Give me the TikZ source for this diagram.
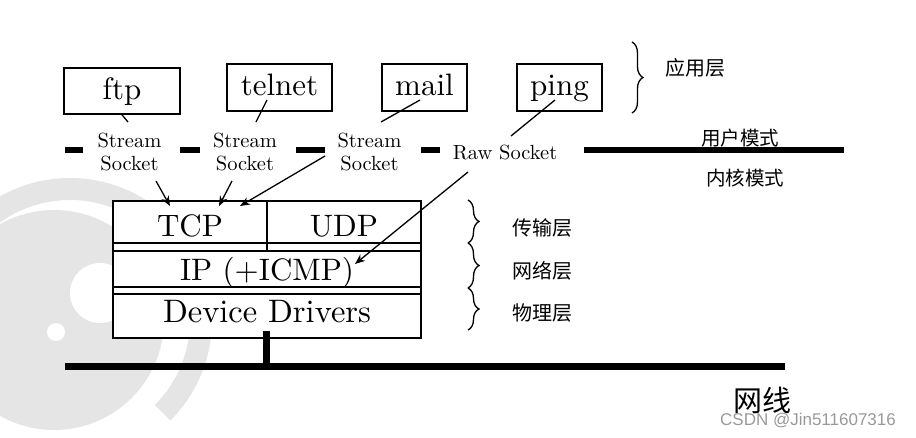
\documentclass[tikz,border=0pt]{standalone}
\usepackage{fontspec}
\setmainfont{lmroman10-regular.otf}
\newfontfamily\cjk{Noto Sans CJK SC}
\newfontfamily\wmfont{Liberation Sans}
\usetikzlibrary{arrows.meta,decorations.pathreplacing}
\begin{document}
\begin{tikzpicture}[x=1pt,y=-1pt,
 appbox/.style={draw,line width=1.6pt,minimum height=47pt,inner sep=0pt,
   font=\fontsize{31}{31}\selectfont,text height=22pt,text depth=6pt},
 bigtxt/.style={font=\fontsize{31}{31}\selectfont,inner sep=0pt,anchor=base},
 socklbl/.style={font=\fontsize{20.5}{23}\selectfont,align=center,inner sep=0pt},
 thickdash/.style={line width=6pt},
 link/.style={line width=1.3pt},
 arr/.style={line width=1.3pt,-{Stealth[length=10pt,width=8pt]}},
 cjklbl/.style={font=\cjk\fontsize{20}{20}\selectfont,inner sep=0pt},
 brc/.style={decorate,decoration={brace,amplitude=11pt},line width=1.3pt},
 layer/.style={line width=1.6pt},
 logo/.style={fill=black!10,draw=none}
]
\useasboundingbox (0,0) rectangle (916,437);
% background watermark logo
\begin{scope}
\clip (0,0) rectangle (916,437);
\begin{scope}
\clip (70,320) -- (286,536) -- (500,500) -- (500,-100) -- (-300,-100) -- (-300,320) -- cycle;
\fill[logo,even odd rule] (70,320) circle[radius=142] (70,320) circle[radius=120];
\end{scope}
\fill[logo] (54,320) circle[radius=110];
\fill[white] (100,293) circle[radius=30];
\fill[white] (56,332) circle[radius=9];
\end{scope}

% application boxes
\node[appbox,minimum width=116pt,minimum height=46pt] (ftp) at (122,91) {ftp};
\node[appbox,minimum width=105pt] (telnet) at (279.5,87.5) {telnet};
\node[appbox,minimum width=85pt] (mail) at (424.5,87.5) {mail};
\node[appbox,minimum width=85pt] (ping) at (559.5,87.5) {ping};

% user/kernel boundary (thick dashed)
\draw[thickdash] (65,150) -- (83,150);
\draw[thickdash] (180,150) -- (200,150);
\draw[thickdash] (296,150) -- (325,150);
\draw[thickdash] (421,150) -- (440,150);
\draw[thickdash] (584,150) -- (844,150);

% socket labels
\node[socklbl] (ss1) at (129.5,151.5) {Stream\\Socket};
\node[socklbl] (ss2) at (245,151.5) {Stream\\Socket};
\node[socklbl] (ss3) at (369.5,151.5) {Stream\\Socket};
\node[socklbl] (raw) at (505,152.5) {Raw Socket};

% protocol stack
\node[layer,draw,fill=white,minimum width=308pt,minimum height=137pt,inner sep=0pt] (stack) at (267,269.5) {};
\draw[layer] (113,243) -- (421,243);
\draw[layer] (113,251) -- (421,251);
\draw[layer] (113,287) -- (421,287);
\draw[layer] (113,294) -- (421,294);
\draw[layer] (267,201) -- (267,251);
\node[bigtxt] (tcp) at (190,236) {TCP};
\node[bigtxt] (udp) at (344,236) {UDP};
\node[bigtxt] (ip) at (267,280) {IP (+ICMP)};
\node[bigtxt,font=\fontsize{32.5}{32.5}\selectfont] (dd) at (267,322.7) {Device Drivers};

% network wire
\coordinate (stub) at (266.7,331);
\coordinate (stubend) at (266.7,366);
\draw[line width=7pt] (65,366) -- (785,366);
\draw[line width=7pt] (stub) -- (stubend);

% links from apps to sockets
\coordinate (ftpl) at (128,122);
\coordinate (telnets) at (267,100);
\coordinate (telnetl) at (256,122);
\coordinate (mails) at (420,100);
\coordinate (maill) at (381,122);
\coordinate (pings) at (555,100);
\coordinate (pingl) at (511,136);
\draw[link] (ftp.south) -- (ftpl);
\draw[link] (telnets) -- (telnetl);
\draw[link] (mails) -- (maill);
\draw[link] (pings) -- (pingl);

% arrows into the stack
\coordinate (a1s) at (156,181);
\coordinate (a1e) at (170,206);
\coordinate (a2s) at (232,181);
\coordinate (a2e) at (219,206);
\coordinate (a3s) at (325,156);
\coordinate (a3e) at (240,206);
\coordinate (a4s) at (468,172);
\coordinate (a4e) at (355,264);
\draw[arr] (a1s) -- (a1e);
\draw[arr] (a2s) -- (a2e);
\draw[arr] (a3s) -- (a3e);
\draw[arr] (a4s) -- (a4e);

% braces and layer names
\draw[brc] (632,42) -- (632,113);
\draw[brc] (468,200) -- (468,243);
\draw[brc] (468,243) -- (468,288);
\draw[brc] (468,288) -- (468,330);
\node[cjklbl] (app) at (695,68) {应用层};
\node[cjklbl] (trans) at (542,228) {传输层};
\node[cjklbl] (net) at (542,271) {网络层};
\node[cjklbl] (phys) at (542,313) {物理层};
\node[cjklbl,font=\cjk\fontsize{19.5}{19.5}\selectfont] (user) at (740,138) {用户模式};
\node[cjklbl,font=\cjk\fontsize{19.5}{19.5}\selectfont] (kern) at (745,178) {内核模式};
\node[cjklbl,font=\cjk\fontsize{29}{29}\selectfont] (wire) at (762,400) {网线};
\node[font=\wmfont\fontsize{17}{17}\selectfont,text=black!40,inner sep=0pt] (wm) at (808,421) {CSDN @Jin511607316};
\end{tikzpicture}
\end{document}
